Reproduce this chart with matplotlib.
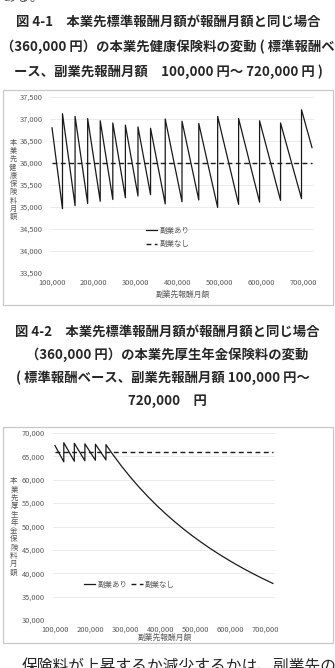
import matplotlib
matplotlib.use("Agg")
import matplotlib.pyplot as plt
from matplotlib.patches import Rectangle

plt.rcParams['font.family'] = ['Noto Sans CJK JP', 'DejaVu Sans']

# ---------------- data ----------------
x_ticks = [100000, 200000, 300000, 400000, 500000, 600000, 700000]
x_ticklabels = ["100,000", "200,000", "300,000", "400,000", "500,000", "600,000", "700,000"]

health_yticks = [33500, 34000, 34500, 35000, 35500, 36000, 36500, 37000, 37500]
health_yticklabels = ["33,500", "34,000", "34,500", "35,000", "35,500", "36,000", "36,500", "37,000", "37,500"]

health_x = [100000, 125000, 125000, 155000, 155000, 185000, 185000, 215000, 215000,
            245000, 245000, 275000, 275000, 305000, 305000, 335000, 335000, 370000,
            370000, 410000, 410000, 450000, 450000, 495000, 495000, 545000, 545000,
            595000, 595000, 645000, 645000, 695000, 695000, 720000]
health_y = [36800, 34960, 37120, 35030, 37060, 35080, 37010, 35130, 36960,
            35170, 36910, 35210, 36860, 35250, 36820, 35280, 36790, 35070,
            37000, 35120, 36950, 35160, 36900, 34990, 37060, 35060, 37010,
            35110, 36960, 35150, 36910, 35190, 37210, 36350]
health_none_x = [100000, 720000]
health_none_y = [36000, 36000]

pension_yticks = [30000, 35000, 40000, 45000, 50000, 55000, 60000, 65000, 70000]
pension_yticklabels = ["30,000", "35,000", "40,000", "45,000", "50,000", "55,000", "60,000", "65,000", "70,000"]

pension_x = [100000, 125000, 125000, 155000, 155000, 185000, 185000, 215000, 215000,
             245000, 245000, 265000, 290000, 315000, 340000, 365000, 390000, 415000,
             440000, 465000, 490000, 515000, 540000, 565000, 590000, 615000, 640000,
             665000, 690000, 720000]
pension_y = [67310, 63840, 67920, 63960, 67800, 64070, 67690, 64160, 67600,
             64250, 67510, 65350, 62840, 60510, 58350, 56340, 54460, 52700,
             51060, 49510, 48050, 46680, 45380, 44160, 43000, 41890, 40850,
             39850, 38900, 37820]
pension_none_x = [100000, 720000]
pension_none_y = [65880, 65880]

series_labels = ["副業あり", "副業なし"]
x_title = "副業先報酬月額"
health_ytitle = "本業先健康保険料月額"
pension_ytitle = "本業先厚生年金保険料月額"

title1 = ["図 4-1　本業先標準報酬月額が報酬月額と同じ場合",
          "（360,000 円）の本業先健康保険料の変動 ( 標準報酬ベ",
          "ース、副業先報酬月額　100,000 円〜 720,000 円 )"]
title2 = ["図 4-2　本業先標準報酬月額が報酬月額と同じ場合",
          "（360,000 円）の本業先厚生年金保険料の変動",
          "( 標準報酬ベース、副業先報酬月額 100,000 円〜",
          "720,000　円"]
body_top = "ある。"
body_bottom = "保険料が上昇するか減少するかは、副業先の"

# ---------------- layout helpers ----------------
W, H = 335, 668
fig = plt.figure(figsize=(W / 100, H / 100), dpi=100)
fig.patch.set_facecolor("white")


def fx(x):
    return x / W


def fy(y):
    return 1 - y / H


def add_axes_px(left, top, right, bottom):
    return fig.add_axes([fx(left), fy(bottom), (right - left) / W, (bottom - top) / H])


TXT = "#262626"
TICK = "#595959"
GRID = "#e6e6e6"
LINE = "#1a1a1a"
tick_fs = 5.4

# body text fragments (cut by the page edges, as in the reference)
fig.text(fx(2), fy(1.5), body_top, fontsize=10, color="#555555", ha="left", va="baseline")
fig.text(fx(22), fy(672), body_bottom, fontsize=11.3, color=TXT, ha="left", va="baseline")

# titles
for t, yy in zip(title1, [22, 47, 72]):
    fig.text(fx(168), fy(yy), t, fontsize=9.6, fontweight="bold", color=TXT,
             ha="center", va="center")
for t, yy, xx in zip(title2, [332, 355, 378, 401], [167, 167, 163, 167]):
    fig.text(fx(xx), fy(yy), t, fontsize=9.6, fontweight="bold", color=TXT,
             ha="center", va="center")

# chart boxes
for (l, t, r, b) in [(3, 90, 333, 305), (3, 427, 333, 643)]:
    fig.patches.append(Rectangle((fx(l), fy(b)), (r - l) / W, (b - t) / H,
                                 transform=fig.transFigure, fill=False,
                                 edgecolor="#c8c8c8", linewidth=0.9))


def style_axes(ax, yticks, yticklabels, ylim, xlim):
    ax.set_xlim(*xlim)
    ax.set_ylim(*ylim)
    ax.set_yticks(yticks)
    ax.set_yticklabels(yticklabels)
    ax.set_xticks(x_ticks)
    ax.set_xticklabels(x_ticklabels)
    for s in ax.spines.values():
        s.set_visible(False)
    ax.tick_params(axis="both", length=0, labelsize=tick_fs, labelcolor=TICK)
    ax.tick_params(axis="y", pad=5)
    ax.tick_params(axis="x", pad=4)
    ax.grid(axis="y", color=GRID, linewidth=0.6)
    ax.set_axisbelow(True)
    ax.patch.set_alpha(0)


# ---------------- chart 1 ----------------
ax1 = add_axes_px(50, 97, 314, 273)
style_axes(ax1, health_yticks, health_yticklabels, (33500, 37500), (95200, 724800))
l1, = ax1.plot(health_x, health_y, color=LINE, linewidth=0.9, label=series_labels[0])
l2, = ax1.plot(health_none_x, health_none_y, color=LINE, linewidth=1.0,
               dashes=(3.5, 2.5), label=series_labels[1])
ax1.legend(handles=[l1, l2], loc="center left", bbox_to_anchor=(fx(146), fy(237.5)),
           bbox_transform=fig.transFigure, frameon=False, fontsize=tick_fs,
           handlelength=1.5, handletextpad=0.3, borderpad=0, borderaxespad=0,
           labelspacing=0.75, labelcolor=TICK)
fig.text(fx(183), fy(295), x_title, fontsize=5.6, color=TICK, ha="center", va="center")
fig.text(fx(13), fy(180), "\n".join(health_ytitle), fontsize=5.2, color=TICK,
         ha="center", va="center", linespacing=1.05)

# ---------------- chart 2 ----------------
ax2 = add_axes_px(53, 433, 275, 620)
style_axes(ax2, pension_yticks, pension_yticklabels, (30000, 70000), (94300, 726000))
m1, = ax2.plot(pension_x, pension_y, color=LINE, linewidth=0.9, label=series_labels[0])
m2, = ax2.plot(pension_none_x, pension_none_y, color=LINE, linewidth=1.0,
               dashes=(3.5, 2.5), label=series_labels[1])
ax2.tick_params(axis="y", pad=6)
ax2.legend(handles=[m1, m2], loc="center left", bbox_to_anchor=(fx(84), fy(585)),
           bbox_transform=fig.transFigure, frameon=False, fontsize=tick_fs, ncol=2,
           handlelength=1.5, handletextpad=0.3, borderpad=0, borderaxespad=0,
           columnspacing=0.5, labelcolor=TICK)
fig.text(fx(165), fy(638), x_title, fontsize=5.6, color=TICK, ha="center", va="center")
fig.text(fx(14), fy(527), "\n".join(pension_ytitle), fontsize=5.4, color=TICK,
         ha="center", va="center", linespacing=1.05)

fig.savefig("out.png", dpi=100, facecolor="white")
